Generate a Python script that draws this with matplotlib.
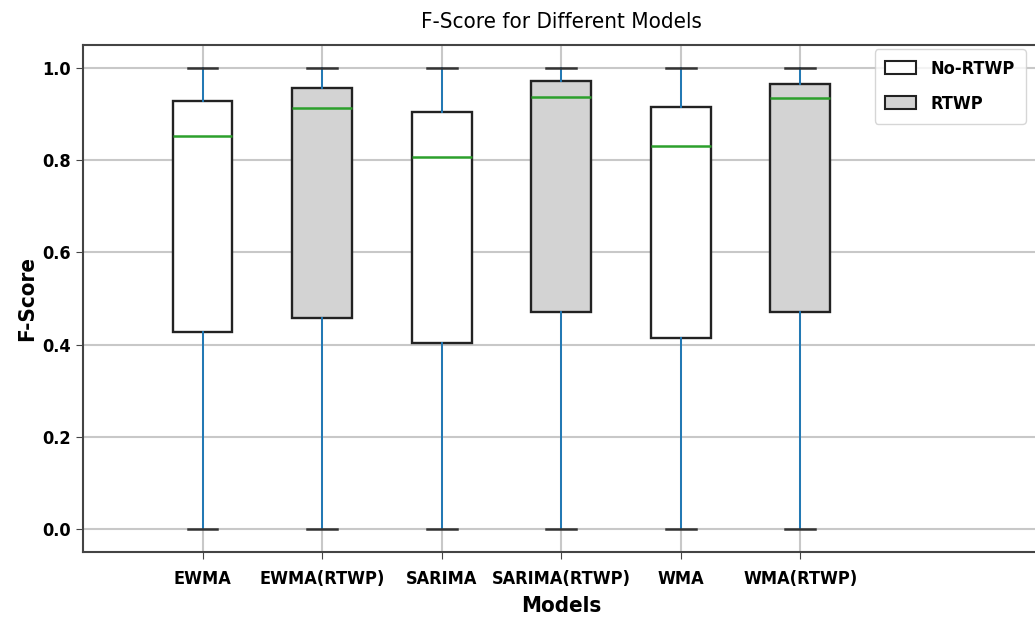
import numpy as np
import matplotlib
matplotlib.use("Agg")
import matplotlib.pyplot as plt
from matplotlib.patches import Patch

# box statistics
models = ["EWMA", "EWMA(RTWP)", "SARIMA", "SARIMA(RTWP)", "WMA", "WMA(RTWP)"]
whis_lo = [0.0, 0.0, 0.0, 0.0, 0.0, 0.0]
q1 = [0.428, 0.457, 0.403, 0.470, 0.415, 0.470]
median = [0.853, 0.914, 0.807, 0.938, 0.830, 0.934]
q3 = [0.928, 0.957, 0.905, 0.971, 0.915, 0.966]
whis_hi = [1.0, 1.0, 1.0, 1.0, 1.0, 1.0]
fills = ["white", "lightgray", "white", "lightgray", "white", "lightgray"]

plt.rcParams['font.family'] = 'DejaVu Sans'
plt.rcParams['font.stretch'] = 'condensed'

fig = plt.figure(figsize=(10.35, 6.22), dpi=100)
ax = fig.add_axes([0.0802, 0.1125, 0.924, 0.8152])

stats = []
for i, m in enumerate(models):
    stats.append(dict(label=m, whislo=whis_lo[i], q1=q1[i], med=median[i],
                      q3=q3[i], whishi=whis_hi[i], fliers=[]))

bp = ax.bxp(stats, positions=np.arange(1, len(models) + 1), widths=0.5,
            patch_artist=True,
            boxprops=dict(edgecolor='#222222', linewidth=1.7),
            whiskerprops=dict(color='#1f77b4', linewidth=1.4),
            capprops=dict(color='#333333', linewidth=1.8),
            medianprops=dict(color='#2ca02c', linewidth=1.8))
for box, c in zip(bp['boxes'], fills):
    box.set_facecolor(c)

ax.set_xlim(0, 8)
ax.set_ylim(-0.05, 1.05)
ax.set_yticks([0.0, 0.2, 0.4, 0.6, 0.8, 1.0])
ax.grid(True, color='#c8c8c8', linewidth=1.5)
ax.set_axisbelow(True)
for s in ax.spines.values():
    s.set_color('#444444')
    s.set_linewidth(1.5)

for lab in ax.get_xticklabels() + ax.get_yticklabels():
    lab.set_fontweight('bold')
    lab.set_fontsize(13)
ax.tick_params(length=5, color='#444444')
ax.tick_params(axis='x', pad=8)

ax.set_title("F-Score for Different Models", fontsize=16, pad=12)
ax.set_xlabel("Models", fontsize=16, fontweight='bold', labelpad=6)
ax.set_ylabel("F-Score", fontsize=16, fontweight='bold', labelpad=4)

handles = [Patch(facecolor='white', edgecolor='#222222', linewidth=1.5, label='No-RTWP'),
           Patch(facecolor='lightgray', edgecolor='#222222', linewidth=1.5, label='RTWP')]
leg = fig.legend(handles=handles, loc='upper right', bbox_to_anchor=(0.991, 0.921),
                 borderaxespad=0, prop=dict(weight='bold', size=13),
                 handlelength=1.7, borderpad=0.6, labelspacing=0.95)

fig.savefig("out.png", dpi=100)
